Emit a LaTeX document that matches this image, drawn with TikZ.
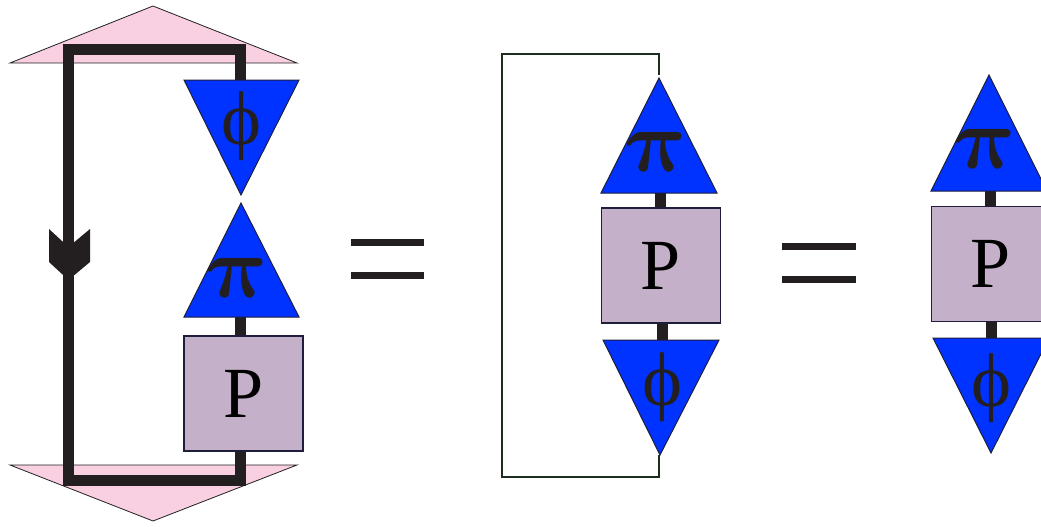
\RequirePackage{fix-cm}
\documentclass[tikz,border=0pt]{standalone}
\usepackage{bm}
\usepackage{fontspec}
\setmainfont{Liberation Serif}
\usetikzlibrary{positioning}

\definecolor{triblue}{RGB}{0,51,255}
\definecolor{capink}{RGB}{248,208,226}
\definecolor{boxlilac}{RGB}{197,176,202}
\definecolor{inkblack}{RGB}{35,31,32}
\definecolor{inkdark}{RGB}{30,30,60}
\definecolor{loopgreen}{RGB}{30,46,30}

\newcommand{\bigpi}{$\bm{\pi}$}

\begin{document}
\begin{tikzpicture}[x=1pt, y=-1pt,
    wire/.style={line width=11pt, draw=inkblack},
    loopline/.style={line width=1.5pt, draw=loopgreen, line join=miter},
    tri/.style={fill=triblue, draw=inkdark, line width=1pt, line join=miter},
    pinkcap/.style={fill=capink, draw=inkblack, line width=0.8pt},
    pbox/.style={rectangle, draw=inkdark, line width=1.2pt, fill=boxlilac,
        minimum width=119pt, minimum height=115pt, inner sep=0pt,
        font=\fontsize{72}{72}\selectfont},
    sym/.style={inner sep=0pt, text=inkblack, font=\fontsize{76}{76}\selectfont},
    pisym/.style={sym, font=\fontsize{88}{88}\selectfont, xslant=-0.15},
    eqbar/.style={line width=6.5pt, draw=inkblack}]

    \useasboundingbox (0,0) rectangle (1041,527);

    % Left: pink caps and thick loop
    \draw[pinkcap] (10,63) -- (297,63) -- (153,6) -- cycle;
    \draw[pinkcap] (10,465) -- (297,465) -- (153,521) -- cycle;
    \coordinate (phiAt) at (240.5,80);
    \coordinate (loopTR) at (240.5,50);
    \coordinate (loopTL) at (68.5,50);
    \coordinate (loopBL) at (68.5,480);
    \coordinate (loopBR) at (240.5,480);
    \node[pbox] (pA) at (243.5,393.5) {P};
    \draw[wire, line join=miter] (phiAt) -- (loopTR) -- (loopTL) -- (loopBL)
        -- (loopBR) -- (loopBR |- pA.south);
    % arrow head on the loop
    \fill[inkblack] (49,229) -- (68.5,247) -- (90,229) -- (90,262)
        -- (68.5,280) -- (49,262) -- cycle;

    % Left: phi and pi triangles
    \draw[tri] (184,80) -- (299,80) -- (241,195) -- cycle;
    \node[sym] (phiA) at (241,126) {ϕ};
    \coordinate (piAb) at (240.5,317);
    \draw[wire] (piAb) -- (piAb |- pA.north);
    \draw[tri] (184,317) -- (299,317) -- (241,203) -- cycle;
    \node[pisym] (piA) at (238,278) {\bigpi};

    % first equals sign
    \draw[eqbar] (351,242.5) -- (424,242.5);
    \draw[eqbar] (351,275.7) -- (424,275.7);

    % Middle: thin loop
    \coordinate (piBt) at (659,75);
    \coordinate (phiBb) at (659,455);
    \draw[loopline] (piBt) -- (659,54) -- (502,54) -- (502,477) -- (659,477) -- (phiBb);
    \node[pbox] (pB) at (661,265.5) {P};
    \coordinate (piBb) at (660,193);
    \coordinate (phiBt) at (662,340);
    \draw[wire] (piBb) -- (piBb |- pB.north);
    \draw[wire] (phiBt) -- (phiBt |- pB.south);
    \draw[tri] (601,193) -- (717,193) -- (659,78) -- cycle;
    \node[pisym] (piB) at (657,152) {\bigpi};
    \draw[tri] (603,340) -- (719,340) -- (660,455) -- cycle;
    \node[sym] (phiB) at (662,387) {ϕ};

    % second equals sign
    \draw[eqbar] (782,246.7) -- (856,246.7);
    \draw[eqbar] (782,279.7) -- (856,279.7);

    % Right: open chain
    \node[pbox] (pC) at (991,264) {P};
    \coordinate (piCb) at (990,191);
    \coordinate (phiCt) at (991,338);
    \draw[wire] (piCb) -- (piCb |- pC.north);
    \draw[wire] (phiCt) -- (phiCt |- pC.south);
    \draw[tri] (931,191) -- (1047,191) -- (989,75) -- cycle;
    \node[pisym] (piC) at (986,149) {\bigpi};
    \draw[tri] (933,338) -- (1049,338) -- (991,453) -- cycle;
    \node[sym] (phiC) at (991,388) {ϕ};
\end{tikzpicture}
\end{document}
